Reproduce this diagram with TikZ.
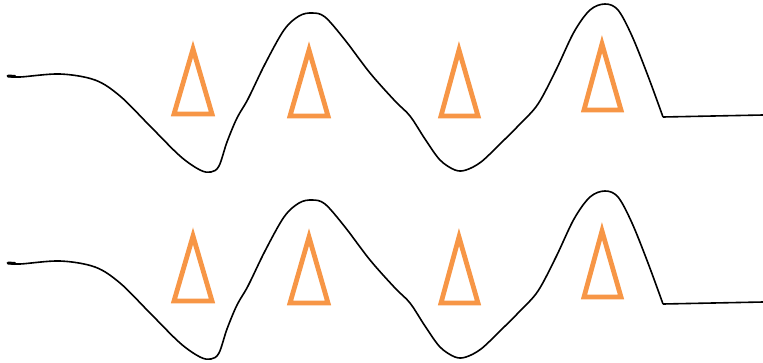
\documentclass[tikz,border=0pt]{standalone}
\definecolor{triorange}{RGB}{247,150,70}
\tikzset{
  wave/.style={line width=1.6pt, black, line join=round},
  tri/.style={draw=triorange, line width=4.8pt, line join=miter},
}
\begin{document}
\begin{tikzpicture}[x=1pt,y=-1pt]
\useasboundingbox (0,0) rectangle (763,362);
\foreach \dy/\r in {0/a,187/b}{
  \begin{scope}[yshift=-\dy pt]
    \draw[wave] plot[smooth,tension=0.55] coordinates {
      (8,76) (20,77) (60,74) (95,80) (120,96) (150,126) (180,156) (200,170) (211,172)
      (219,166) (227,142) (237,118) (248,99) (265,64) (284,30) (299,16) (312,13)
      (325,17) (345,40) (370,73) (395,101) (410,116) (425,139) (440,160) (455,170)
      (466,170) (481,162) (500,144) (520,124) (538,104) (556,70) (574,32) (590,10)
      (605,4) (618,10) (632,36) (648,76) (663,117)};
    \coordinate (\r end1) at (663,117);
    \coordinate (\r end2) at (763,115);
    \draw[wave] (\r end1) -- (\r end2);
    \coordinate (\r s1) at (8,76);
    \coordinate (\r s2) at (15,76.5);
    \draw[line width=3pt, line cap=round] (\r s1) -- (\r s2);
    \draw[tri] (193,49) -- (212,114) -- (174,114) -- cycle;
    \draw[tri] (309,50) -- (328,116) -- (290,116) -- cycle;
    \draw[tri] (459,50) -- (478,116) -- (441,116) -- cycle;
    \draw[tri] (602,44) -- (621,110) -- (584,110) -- cycle;
  \end{scope}
}
\end{tikzpicture}
\end{document}
